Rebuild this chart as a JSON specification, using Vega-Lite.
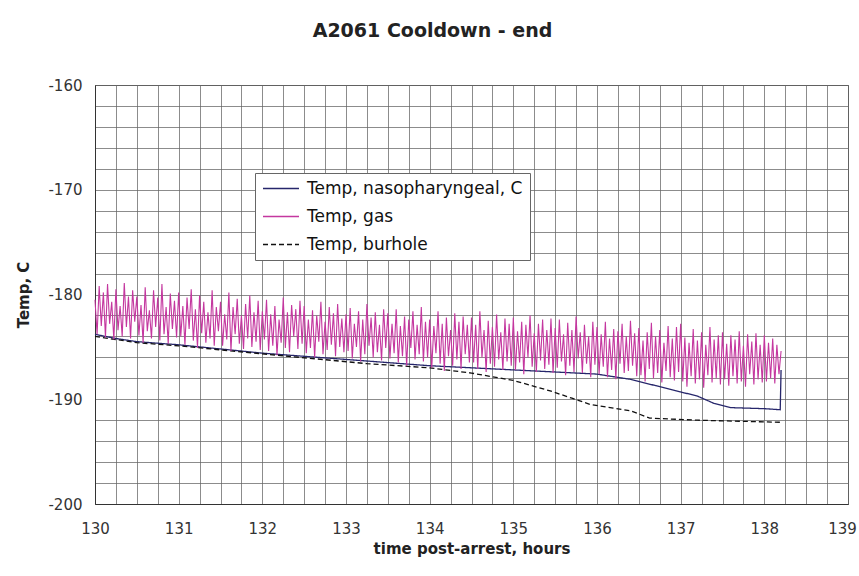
{
  "$schema": "https://vega.github.io/schema/vega-lite/v6.json",
  "width": 753,
  "height": 419,
  "autosize": {"type": "none"},
  "padding": {"left": 95, "top": 85, "right": 11, "bottom": 72},
  "background": "white",
  "title": {"text": "A2061 Cooldown - end", "font": "DejaVu Sans", "fontSize": 19, "fontWeight": "bold", "color": "#222", "anchor": "middle", "dx": -39, "offset": 37},
  "config": {
    "view": {"stroke": "#555", "strokeWidth": 1},
    "axis": {"labelFont": "DejaVu Sans", "labelFontSize": 15, "labelColor": "#333", "titleFont": "DejaVu Sans", "titleFontSize": 15, "titleFontWeight": "bold", "titleColor": "#222", "gridColor": "#666", "gridOpacity": 0.75, "gridWidth": 1, "domainColor": "#333", "ticks": false, "labelOverlap": false, "labelFlush": false}
  },
  "datasets": {
    "lines": [
      {"s":"Temp, nasopharyngeal, C","t":130.0,"v":-183.8},
      {"s":"Temp, nasopharyngeal, C","t":130.25,"v":-184.2},
      {"s":"Temp, nasopharyngeal, C","t":130.5,"v":-184.5},
      {"s":"Temp, nasopharyngeal, C","t":131.0,"v":-184.8},
      {"s":"Temp, nasopharyngeal, C","t":131.5,"v":-185.2},
      {"s":"Temp, nasopharyngeal, C","t":132.0,"v":-185.6},
      {"s":"Temp, nasopharyngeal, C","t":132.5,"v":-185.9},
      {"s":"Temp, nasopharyngeal, C","t":133.0,"v":-186.2},
      {"s":"Temp, nasopharyngeal, C","t":133.5,"v":-186.5},
      {"s":"Temp, nasopharyngeal, C","t":134.0,"v":-186.8},
      {"s":"Temp, nasopharyngeal, C","t":135.0,"v":-187.2},
      {"s":"Temp, nasopharyngeal, C","t":135.5,"v":-187.4},
      {"s":"Temp, nasopharyngeal, C","t":136.0,"v":-187.6},
      {"s":"Temp, nasopharyngeal, C","t":136.4,"v":-188.1},
      {"s":"Temp, nasopharyngeal, C","t":136.7,"v":-188.7},
      {"s":"Temp, nasopharyngeal, C","t":137.0,"v":-189.3},
      {"s":"Temp, nasopharyngeal, C","t":137.2,"v":-189.7},
      {"s":"Temp, nasopharyngeal, C","t":137.4,"v":-190.4},
      {"s":"Temp, nasopharyngeal, C","t":137.6,"v":-190.8},
      {"s":"Temp, nasopharyngeal, C","t":138.0,"v":-190.9},
      {"s":"Temp, nasopharyngeal, C","t":138.19,"v":-191.0},
      {"s":"Temp, nasopharyngeal, C","t":138.2,"v":-187.2},
      {"s":"Temp, burhole","t":130.0,"v":-184.0},
      {"s":"Temp, burhole","t":130.5,"v":-184.6},
      {"s":"Temp, burhole","t":131.0,"v":-184.9},
      {"s":"Temp, burhole","t":131.65,"v":-185.4},
      {"s":"Temp, burhole","t":132.45,"v":-186.0},
      {"s":"Temp, burhole","t":133.25,"v":-186.6},
      {"s":"Temp, burhole","t":134.0,"v":-187.0},
      {"s":"Temp, burhole","t":134.5,"v":-187.5},
      {"s":"Temp, burhole","t":135.0,"v":-188.2},
      {"s":"Temp, burhole","t":135.44,"v":-189.2},
      {"s":"Temp, burhole","t":135.7,"v":-189.9},
      {"s":"Temp, burhole","t":135.92,"v":-190.5},
      {"s":"Temp, burhole","t":136.4,"v":-191.1},
      {"s":"Temp, burhole","t":136.63,"v":-191.8},
      {"s":"Temp, burhole","t":137.2,"v":-192.0},
      {"s":"Temp, burhole","t":137.7,"v":-192.1},
      {"s":"Temp, burhole","t":138.2,"v":-192.2}
    ],
    "gas": [
      {"s":"Temp, gas","t":130.0,"v":-180.5},{"s":"Temp, gas","t":130.025,"v":-183.8},{"s":"Temp, gas","t":130.05,"v":-179.2},{"s":"Temp, gas","t":130.075,"v":-183.0},{"s":"Temp, gas","t":130.1,"v":-179.8},{"s":"Temp, gas","t":130.125,"v":-184.1},{"s":"Temp, gas","t":130.15,"v":-179.0},{"s":"Temp, gas","t":130.175,"v":-182.8},{"s":"Temp, gas","t":130.2,"v":-180.7},{"s":"Temp, gas","t":130.225,"v":-184.3},
      {"s":"Temp, gas","t":130.25,"v":-179.5},{"s":"Temp, gas","t":130.275,"v":-183.4},{"s":"Temp, gas","t":130.3,"v":-181.1},{"s":"Temp, gas","t":130.325,"v":-184.0},{"s":"Temp, gas","t":130.35,"v":-178.9},{"s":"Temp, gas","t":130.375,"v":-183.1},{"s":"Temp, gas","t":130.4,"v":-180.2},{"s":"Temp, gas","t":130.425,"v":-184.2},{"s":"Temp, gas","t":130.45,"v":-179.6},{"s":"Temp, gas","t":130.475,"v":-182.6},
      {"s":"Temp, gas","t":130.5,"v":-180.2},{"s":"Temp, gas","t":130.525,"v":-183.9},{"s":"Temp, gas","t":130.55,"v":-181.0},{"s":"Temp, gas","t":130.575,"v":-184.6},{"s":"Temp, gas","t":130.6,"v":-179.3},{"s":"Temp, gas","t":130.625,"v":-183.5},{"s":"Temp, gas","t":130.65,"v":-181.5},{"s":"Temp, gas","t":130.675,"v":-184.2},{"s":"Temp, gas","t":130.7,"v":-179.6},{"s":"Temp, gas","t":130.725,"v":-183.1},
      {"s":"Temp, gas","t":130.75,"v":-180.3},{"s":"Temp, gas","t":130.775,"v":-184.4},{"s":"Temp, gas","t":130.8,"v":-179.0},{"s":"Temp, gas","t":130.825,"v":-183.8},{"s":"Temp, gas","t":130.85,"v":-181.2},{"s":"Temp, gas","t":130.875,"v":-184.7},{"s":"Temp, gas","t":130.9,"v":-179.9},{"s":"Temp, gas","t":130.925,"v":-183.3},{"s":"Temp, gas","t":130.95,"v":-180.6},{"s":"Temp, gas","t":130.975,"v":-184.1},
      {"s":"Temp, gas","t":131.0,"v":-179.8},{"s":"Temp, gas","t":131.025,"v":-184.0},{"s":"Temp, gas","t":131.05,"v":-181.1},{"s":"Temp, gas","t":131.075,"v":-184.8},{"s":"Temp, gas","t":131.1,"v":-180.3},{"s":"Temp, gas","t":131.125,"v":-183.3},{"s":"Temp, gas","t":131.15,"v":-179.5},{"s":"Temp, gas","t":131.175,"v":-184.4},{"s":"Temp, gas","t":131.2,"v":-181.4},{"s":"Temp, gas","t":131.225,"v":-185.1},
      {"s":"Temp, gas","t":131.25,"v":-180.1},{"s":"Temp, gas","t":131.275,"v":-183.7},{"s":"Temp, gas","t":131.3,"v":-180.7},{"s":"Temp, gas","t":131.325,"v":-184.6},{"s":"Temp, gas","t":131.35,"v":-181.7},{"s":"Temp, gas","t":131.375,"v":-184.2},{"s":"Temp, gas","t":131.4,"v":-179.6},{"s":"Temp, gas","t":131.425,"v":-184.9},{"s":"Temp, gas","t":131.45,"v":-181.2},{"s":"Temp, gas","t":131.475,"v":-183.5},
      {"s":"Temp, gas","t":131.5,"v":-180.7},{"s":"Temp, gas","t":131.525,"v":-184.9},{"s":"Temp, gas","t":131.55,"v":-181.9},{"s":"Temp, gas","t":131.575,"v":-184.3},{"s":"Temp, gas","t":131.6,"v":-179.8},{"s":"Temp, gas","t":131.625,"v":-185.4},{"s":"Temp, gas","t":131.65,"v":-181.2},{"s":"Temp, gas","t":131.675,"v":-183.8},{"s":"Temp, gas","t":131.7,"v":-180.4},{"s":"Temp, gas","t":131.725,"v":-184.7},
      {"s":"Temp, gas","t":131.75,"v":-182.0},{"s":"Temp, gas","t":131.775,"v":-185.2},{"s":"Temp, gas","t":131.8,"v":-180.9},{"s":"Temp, gas","t":131.825,"v":-184.2},{"s":"Temp, gas","t":131.85,"v":-180.1},{"s":"Temp, gas","t":131.875,"v":-185.0},{"s":"Temp, gas","t":131.9,"v":-181.7},{"s":"Temp, gas","t":131.925,"v":-184.5},{"s":"Temp, gas","t":131.95,"v":-180.6},{"s":"Temp, gas","t":131.975,"v":-185.3},
      {"s":"Temp, gas","t":132.0,"v":-181.6},{"s":"Temp, gas","t":132.025,"v":-184.3},{"s":"Temp, gas","t":132.05,"v":-180.5},{"s":"Temp, gas","t":132.075,"v":-185.4},{"s":"Temp, gas","t":132.1,"v":-181.9},{"s":"Temp, gas","t":132.125,"v":-184.9},{"s":"Temp, gas","t":132.15,"v":-181.1},{"s":"Temp, gas","t":132.175,"v":-185.8},{"s":"Temp, gas","t":132.2,"v":-182.4},{"s":"Temp, gas","t":132.225,"v":-184.6},
      {"s":"Temp, gas","t":132.25,"v":-180.3},{"s":"Temp, gas","t":132.275,"v":-185.1},{"s":"Temp, gas","t":132.3,"v":-181.7},{"s":"Temp, gas","t":132.325,"v":-185.5},{"s":"Temp, gas","t":132.35,"v":-181.0},{"s":"Temp, gas","t":132.375,"v":-184.0},{"s":"Temp, gas","t":132.4,"v":-181.4},{"s":"Temp, gas","t":132.425,"v":-185.2},{"s":"Temp, gas","t":132.45,"v":-180.6},{"s":"Temp, gas","t":132.475,"v":-184.7},
      {"s":"Temp, gas","t":132.5,"v":-181.1},{"s":"Temp, gas","t":132.525,"v":-185.6},{"s":"Temp, gas","t":132.55,"v":-182.4},{"s":"Temp, gas","t":132.575,"v":-185.1},{"s":"Temp, gas","t":132.6,"v":-181.5},{"s":"Temp, gas","t":132.625,"v":-186.0},{"s":"Temp, gas","t":132.65,"v":-182.0},{"s":"Temp, gas","t":132.675,"v":-184.5},{"s":"Temp, gas","t":132.7,"v":-180.7},{"s":"Temp, gas","t":132.725,"v":-185.7},
      {"s":"Temp, gas","t":132.75,"v":-182.6},{"s":"Temp, gas","t":132.775,"v":-185.3},{"s":"Temp, gas","t":132.8,"v":-181.2},{"s":"Temp, gas","t":132.825,"v":-184.8},{"s":"Temp, gas","t":132.85,"v":-181.8},{"s":"Temp, gas","t":132.875,"v":-185.9},{"s":"Temp, gas","t":132.9,"v":-180.9},{"s":"Temp, gas","t":132.925,"v":-185.0},{"s":"Temp, gas","t":132.95,"v":-182.3},{"s":"Temp, gas","t":132.975,"v":-185.5},
      {"s":"Temp, gas","t":133.0,"v":-181.9},{"s":"Temp, gas","t":133.025,"v":-185.4},{"s":"Temp, gas","t":133.05,"v":-181.3},{"s":"Temp, gas","t":133.075,"v":-186.1},{"s":"Temp, gas","t":133.1,"v":-182.8},{"s":"Temp, gas","t":133.125,"v":-185.0},{"s":"Temp, gas","t":133.15,"v":-181.6},{"s":"Temp, gas","t":133.175,"v":-186.4},{"s":"Temp, gas","t":133.2,"v":-182.4},{"s":"Temp, gas","t":133.225,"v":-185.7},
      {"s":"Temp, gas","t":133.25,"v":-180.9},{"s":"Temp, gas","t":133.275,"v":-184.9},{"s":"Temp, gas","t":133.3,"v":-182.2},{"s":"Temp, gas","t":133.325,"v":-186.0},{"s":"Temp, gas","t":133.35,"v":-181.7},{"s":"Temp, gas","t":133.375,"v":-185.5},{"s":"Temp, gas","t":133.4,"v":-182.9},{"s":"Temp, gas","t":133.425,"v":-186.3},{"s":"Temp, gas","t":133.45,"v":-181.4},{"s":"Temp, gas","t":133.475,"v":-185.1},
      {"s":"Temp, gas","t":133.5,"v":-181.8},{"s":"Temp, gas","t":133.525,"v":-186.1},{"s":"Temp, gas","t":133.55,"v":-182.8},{"s":"Temp, gas","t":133.575,"v":-185.6},{"s":"Temp, gas","t":133.6,"v":-181.4},{"s":"Temp, gas","t":133.625,"v":-186.5},{"s":"Temp, gas","t":133.65,"v":-183.0},{"s":"Temp, gas","t":133.675,"v":-185.9},{"s":"Temp, gas","t":133.7,"v":-182.1},{"s":"Temp, gas","t":133.725,"v":-186.8},
      {"s":"Temp, gas","t":133.75,"v":-182.4},{"s":"Temp, gas","t":133.775,"v":-185.1},{"s":"Temp, gas","t":133.8,"v":-181.6},{"s":"Temp, gas","t":133.825,"v":-186.2},{"s":"Temp, gas","t":133.85,"v":-182.9},{"s":"Temp, gas","t":133.875,"v":-185.7},{"s":"Temp, gas","t":133.9,"v":-181.2},{"s":"Temp, gas","t":133.925,"v":-186.4},{"s":"Temp, gas","t":133.95,"v":-182.6},{"s":"Temp, gas","t":133.975,"v":-186.0},
      {"s":"Temp, gas","t":134.0,"v":-182.4},{"s":"Temp, gas","t":134.025,"v":-187.0},{"s":"Temp, gas","t":134.05,"v":-183.0},{"s":"Temp, gas","t":134.075,"v":-185.6},{"s":"Temp, gas","t":134.1,"v":-181.6},{"s":"Temp, gas","t":134.125,"v":-186.6},{"s":"Temp, gas","t":134.15,"v":-182.8},{"s":"Temp, gas","t":134.175,"v":-187.3},{"s":"Temp, gas","t":134.2,"v":-182.2},{"s":"Temp, gas","t":134.225,"v":-185.9},
      {"s":"Temp, gas","t":134.25,"v":-183.4},{"s":"Temp, gas","t":134.275,"v":-186.8},{"s":"Temp, gas","t":134.3,"v":-181.8},{"s":"Temp, gas","t":134.325,"v":-186.2},{"s":"Temp, gas","t":134.35,"v":-182.6},{"s":"Temp, gas","t":134.375,"v":-187.1},{"s":"Temp, gas","t":134.4,"v":-182.1},{"s":"Temp, gas","t":134.425,"v":-185.7},{"s":"Temp, gas","t":134.45,"v":-182.9},{"s":"Temp, gas","t":134.475,"v":-186.5},
      {"s":"Temp, gas","t":134.5,"v":-182.2},{"s":"Temp, gas","t":134.525,"v":-186.5},{"s":"Temp, gas","t":134.55,"v":-182.9},{"s":"Temp, gas","t":134.575,"v":-187.1},{"s":"Temp, gas","t":134.6,"v":-181.6},{"s":"Temp, gas","t":134.625,"v":-186.0},{"s":"Temp, gas","t":134.65,"v":-183.4},{"s":"Temp, gas","t":134.675,"v":-187.4},{"s":"Temp, gas","t":134.7,"v":-182.5},{"s":"Temp, gas","t":134.725,"v":-186.6},
      {"s":"Temp, gas","t":134.75,"v":-183.1},{"s":"Temp, gas","t":134.775,"v":-186.9},{"s":"Temp, gas","t":134.8,"v":-181.9},{"s":"Temp, gas","t":134.825,"v":-186.2},{"s":"Temp, gas","t":134.85,"v":-183.6},{"s":"Temp, gas","t":134.875,"v":-187.2},{"s":"Temp, gas","t":134.9,"v":-182.3},{"s":"Temp, gas","t":134.925,"v":-186.4},{"s":"Temp, gas","t":134.95,"v":-182.8},{"s":"Temp, gas","t":134.975,"v":-186.8},
      {"s":"Temp, gas","t":135.0,"v":-182.2},{"s":"Temp, gas","t":135.025,"v":-187.2},{"s":"Temp, gas","t":135.05,"v":-183.5},{"s":"Temp, gas","t":135.075,"v":-186.5},{"s":"Temp, gas","t":135.1,"v":-182.6},{"s":"Temp, gas","t":135.125,"v":-187.6},{"s":"Temp, gas","t":135.15,"v":-182.9},{"s":"Temp, gas","t":135.175,"v":-186.0},{"s":"Temp, gas","t":135.2,"v":-182.0},{"s":"Temp, gas","t":135.225,"v":-186.9},
      {"s":"Temp, gas","t":135.25,"v":-183.7},{"s":"Temp, gas","t":135.275,"v":-187.4},{"s":"Temp, gas","t":135.3,"v":-182.8},{"s":"Temp, gas","t":135.325,"v":-186.3},{"s":"Temp, gas","t":135.35,"v":-182.4},{"s":"Temp, gas","t":135.375,"v":-187.1},{"s":"Temp, gas","t":135.4,"v":-183.4},{"s":"Temp, gas","t":135.425,"v":-186.7},{"s":"Temp, gas","t":135.45,"v":-182.3},{"s":"Temp, gas","t":135.475,"v":-187.5},
      {"s":"Temp, gas","t":135.5,"v":-183.2},{"s":"Temp, gas","t":135.525,"v":-187.0},{"s":"Temp, gas","t":135.55,"v":-182.4},{"s":"Temp, gas","t":135.575,"v":-186.4},{"s":"Temp, gas","t":135.6,"v":-183.8},{"s":"Temp, gas","t":135.625,"v":-187.7},{"s":"Temp, gas","t":135.65,"v":-182.7},{"s":"Temp, gas","t":135.675,"v":-186.8},{"s":"Temp, gas","t":135.7,"v":-183.4},{"s":"Temp, gas","t":135.725,"v":-187.4},
      {"s":"Temp, gas","t":135.75,"v":-182.1},{"s":"Temp, gas","t":135.775,"v":-186.1},{"s":"Temp, gas","t":135.8,"v":-183.6},{"s":"Temp, gas","t":135.825,"v":-187.5},{"s":"Temp, gas","t":135.85,"v":-182.9},{"s":"Temp, gas","t":135.875,"v":-186.6},{"s":"Temp, gas","t":135.9,"v":-184.0},{"s":"Temp, gas","t":135.925,"v":-187.9},{"s":"Temp, gas","t":135.95,"v":-182.6},{"s":"Temp, gas","t":135.975,"v":-186.7},
      {"s":"Temp, gas","t":136.0,"v":-183.1},{"s":"Temp, gas","t":136.025,"v":-187.6},{"s":"Temp, gas","t":136.05,"v":-183.8},{"s":"Temp, gas","t":136.075,"v":-186.9},{"s":"Temp, gas","t":136.1,"v":-182.6},{"s":"Temp, gas","t":136.125,"v":-187.9},{"s":"Temp, gas","t":136.15,"v":-184.2},{"s":"Temp, gas","t":136.175,"v":-187.2},{"s":"Temp, gas","t":136.2,"v":-183.3},{"s":"Temp, gas","t":136.225,"v":-188.1},
      {"s":"Temp, gas","t":136.25,"v":-183.5},{"s":"Temp, gas","t":136.275,"v":-186.6},{"s":"Temp, gas","t":136.3,"v":-182.8},{"s":"Temp, gas","t":136.325,"v":-187.5},{"s":"Temp, gas","t":136.35,"v":-184.0},{"s":"Temp, gas","t":136.375,"v":-187.3},{"s":"Temp, gas","t":136.4,"v":-182.5},{"s":"Temp, gas","t":136.425,"v":-186.8},{"s":"Temp, gas","t":136.45,"v":-183.7},{"s":"Temp, gas","t":136.475,"v":-187.8},
      {"s":"Temp, gas","t":136.5,"v":-183.2},{"s":"Temp, gas","t":136.525,"v":-187.7},{"s":"Temp, gas","t":136.55,"v":-184.4},{"s":"Temp, gas","t":136.575,"v":-188.3},{"s":"Temp, gas","t":136.6,"v":-183.6},{"s":"Temp, gas","t":136.625,"v":-187.1},{"s":"Temp, gas","t":136.65,"v":-182.7},{"s":"Temp, gas","t":136.675,"v":-188.0},{"s":"Temp, gas","t":136.7,"v":-184.0},{"s":"Temp, gas","t":136.725,"v":-187.5},
      {"s":"Temp, gas","t":136.75,"v":-183.4},{"s":"Temp, gas","t":136.775,"v":-188.4},{"s":"Temp, gas","t":136.8,"v":-184.6},{"s":"Temp, gas","t":136.825,"v":-187.3},{"s":"Temp, gas","t":136.85,"v":-183.0},{"s":"Temp, gas","t":136.875,"v":-187.9},{"s":"Temp, gas","t":136.9,"v":-184.2},{"s":"Temp, gas","t":136.925,"v":-188.2},{"s":"Temp, gas","t":136.95,"v":-183.1},{"s":"Temp, gas","t":136.975,"v":-187.4},
      {"s":"Temp, gas","t":137.0,"v":-182.8},{"s":"Temp, gas","t":137.025,"v":-188.3},{"s":"Temp, gas","t":137.05,"v":-184.1},{"s":"Temp, gas","t":137.075,"v":-188.8},{"s":"Temp, gas","t":137.1,"v":-184.6},{"s":"Temp, gas","t":137.125,"v":-187.8},{"s":"Temp, gas","t":137.15,"v":-183.3},{"s":"Temp, gas","t":137.175,"v":-188.5},{"s":"Temp, gas","t":137.2,"v":-184.4},{"s":"Temp, gas","t":137.225,"v":-188.1},
      {"s":"Temp, gas","t":137.25,"v":-183.6},{"s":"Temp, gas","t":137.275,"v":-188.9},{"s":"Temp, gas","t":137.3,"v":-184.8},{"s":"Temp, gas","t":137.325,"v":-187.7},{"s":"Temp, gas","t":137.35,"v":-183.1},{"s":"Temp, gas","t":137.375,"v":-188.4},{"s":"Temp, gas","t":137.4,"v":-184.3},{"s":"Temp, gas","t":137.425,"v":-188.0},{"s":"Temp, gas","t":137.45,"v":-183.9},{"s":"Temp, gas","t":137.475,"v":-188.6},
      {"s":"Temp, gas","t":137.5,"v":-183.6},{"s":"Temp, gas","t":137.525,"v":-188.1},{"s":"Temp, gas","t":137.55,"v":-184.7},{"s":"Temp, gas","t":137.575,"v":-188.7},{"s":"Temp, gas","t":137.6,"v":-183.9},{"s":"Temp, gas","t":137.625,"v":-187.8},{"s":"Temp, gas","t":137.65,"v":-184.3},{"s":"Temp, gas","t":137.675,"v":-188.5},{"s":"Temp, gas","t":137.7,"v":-183.5},{"s":"Temp, gas","t":137.725,"v":-188.3},
      {"s":"Temp, gas","t":137.75,"v":-184.9},{"s":"Temp, gas","t":137.775,"v":-188.8},{"s":"Temp, gas","t":137.8,"v":-183.8},{"s":"Temp, gas","t":137.825,"v":-187.6},{"s":"Temp, gas","t":137.85,"v":-184.5},{"s":"Temp, gas","t":137.875,"v":-188.6},{"s":"Temp, gas","t":137.9,"v":-183.7},{"s":"Temp, gas","t":137.925,"v":-188.1},{"s":"Temp, gas","t":137.95,"v":-184.8},{"s":"Temp, gas","t":137.975,"v":-188.4},
      {"s":"Temp, gas","t":138.0,"v":-183.9},{"s":"Temp, gas","t":138.025,"v":-188.3},{"s":"Temp, gas","t":138.05,"v":-184.6},{"s":"Temp, gas","t":138.075,"v":-188.0},{"s":"Temp, gas","t":138.1,"v":-184.2},{"s":"Temp, gas","t":138.125,"v":-188.5},{"s":"Temp, gas","t":138.15,"v":-184.8},{"s":"Temp, gas","t":138.175,"v":-187.6},{"s":"Temp, gas","t":138.2,"v":-185.4}
    ]
  },
  "encoding": {
    "x": {"field": "t", "type": "quantitative", "title": "time post-arrest, hours",
      "scale": {"domain": [130, 139], "nice": false, "zero": false},
      "axis": {"values": [130,130.25,130.5,130.75,131,131.25,131.5,131.75,132,132.25,132.5,132.75,133,133.25,133.5,133.75,134,134.25,134.5,134.75,135,135.25,135.5,135.75,136,136.25,136.5,136.75,137,137.25,137.5,137.75,138,138.25,138.5,138.75,139],
        "labelExpr": "datum.value % 1 === 0 ? '' + datum.value : ''",
        "labelOffset": {"condition": {"test": "datum.value === 139", "value": -6}, "value": 0},
        "labelPadding": 17, "titlePadding": 5}},
    "y": {"field": "v", "type": "quantitative", "title": "Temp, C",
      "scale": {"domain": [-200, -160], "nice": false, "zero": false},
      "axis": {"values": [-200,-198,-196,-194,-192,-190,-188,-186,-184,-182,-180,-178,-176,-174,-172,-170,-168,-166,-164,-162,-160],
        "labelExpr": "datum.value % 10 === 0 ? '' + datum.value : ''", "labelPadding": 13, "titlePadding": 16}},
    "color": {"field": "s", "type": "nominal",
      "scale": {"domain": ["Temp, nasopharyngeal, C", "Temp, gas", "Temp, burhole"], "range": ["#26266b", "#c4379f", "#111111"]},
      "legend": {"title": null, "orient": "none", "legendX": 160, "legendY": 88, "fillColor": "white", "strokeColor": "#666", "padding": 7,
        "labelFont": "DejaVu Sans", "labelFontSize": 17, "labelColor": "#111", "labelLimit": 400, "symbolType": "stroke", "symbolSize": 1296, "symbolStrokeWidth": 1.5, "labelOffset": 7, "rowPadding": 10, "clipHeight": 17}},
    "strokeDash": {"field": "s", "type": "nominal",
      "scale": {"domain": ["Temp, nasopharyngeal, C", "Temp, gas", "Temp, burhole"], "range": [[1, 0], [1, 0], [5, 3]]},
      "legend": {"title": null, "orient": "none", "legendX": 160, "legendY": 88, "fillColor": "white", "strokeColor": "#666", "padding": 7,
        "labelFont": "DejaVu Sans", "labelFontSize": 17, "labelColor": "#111", "labelLimit": 400, "symbolType": "stroke", "symbolSize": 1296, "symbolStrokeWidth": 1.5, "labelOffset": 7, "rowPadding": 10, "clipHeight": 17}}
  },
  "layer": [
    {"data": {"name": "lines"}, "mark": {"type": "line", "strokeWidth": 1.3}},
    {"data": {"name": "gas"}, "mark": {"type": "line", "strokeWidth": 1.1}}
  ]
}
